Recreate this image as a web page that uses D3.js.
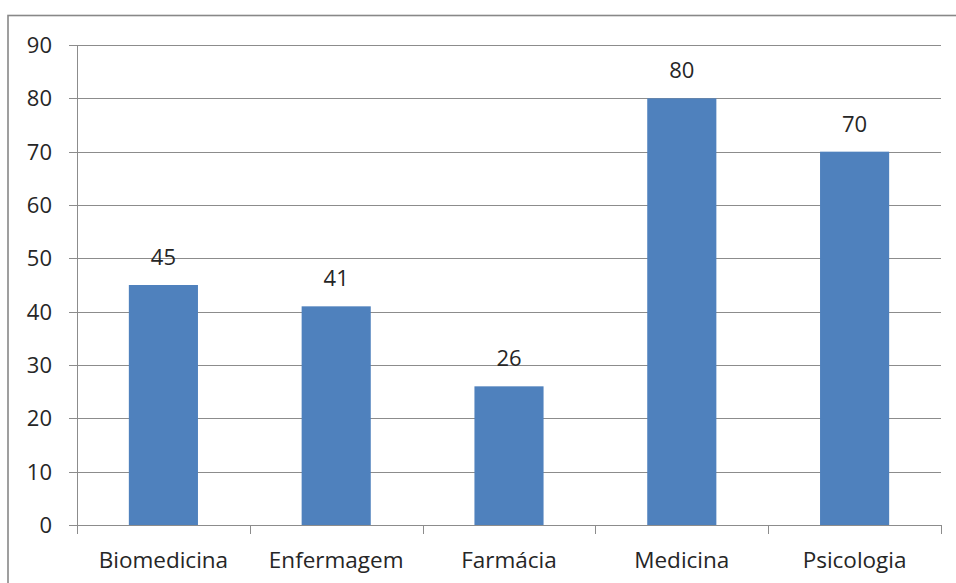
<!DOCTYPE html>
<html>
<head>
<meta charset="utf-8">
<script src="https://cdn.jsdelivr.net/npm/d3@7/dist/d3.min.js"></script>
<style>
  html, body { margin: 0; padding: 0; background: #fff; }
  svg { display: block; }
  text { font-family: "Open Sans", "DejaVu Sans", sans-serif; fill: #262626; }
</style>
</head>
<body>
<svg id="chart" width="956" height="583"></svg>
<script>
// Cursos e número de respostas
const categories = ["Biomedicina", "Enfermagem", "Farmácia", "Medicina", "Psicologia"];
const values = [45, 41, 26, 80, 70];
const yTicks = [0, 10, 20, 30, 40, 50, 60, 70, 80, 90];

const W = 956, H = 583;
const plot = { left: 77, right: 941, top: 45, bottom: 525 };

const svg = d3.select("#chart");

// outer chart frame (right and bottom edges run off the canvas)
svg.append("rect")
  .attr("x", 8).attr("y", 15.5)
  .attr("width", W + 10).attr("height", H + 10)
  .attr("fill", "none").attr("stroke", "#888").attr("stroke-width", 1.6);

const x = d3.scaleBand().domain(categories).range([plot.left, plot.right]).paddingInner(0).paddingOuter(0);
const y = d3.scaleLinear().domain([0, 90]).range([plot.bottom, plot.top]);

// horizontal gridlines with left tick stubs
svg.append("g")
  .selectAll("line").data(yTicks).join("line")
  .attr("x1", plot.left - 8).attr("x2", plot.right)
  .attr("y1", d => Math.round(y(d)) + 0.5).attr("y2", d => Math.round(y(d)) + 0.5)
  .attr("stroke", "#8c8c8c").attr("stroke-width", 1);

// value axis line
svg.append("line")
  .attr("x1", plot.left + 0.5).attr("x2", plot.left + 0.5)
  .attr("y1", plot.top).attr("y2", plot.bottom)
  .attr("stroke", "#8c8c8c");

// bars
const barW = x.bandwidth() * 0.4;
svg.append("g")
  .selectAll("rect").data(values).join("rect")
  .attr("x", (d, i) => x(categories[i]) + (x.bandwidth() - barW) / 2)
  .attr("y", d => y(d))
  .attr("width", barW)
  .attr("height", d => y(0) - y(d))
  .attr("fill", "#4f81bd");

// category axis line and tick marks
svg.append("line")
  .attr("x1", plot.left).attr("x2", plot.right)
  .attr("y1", plot.bottom + 0.5).attr("y2", plot.bottom + 0.5)
  .attr("stroke", "#8c8c8c");
const tickXs = categories.map(c => x(c)).concat([plot.right]);
svg.append("g")
  .selectAll("line").data(tickXs).join("line")
  .attr("x1", d => Math.round(d) + 0.5).attr("x2", d => Math.round(d) + 0.5)
  .attr("y1", plot.bottom).attr("y2", plot.bottom + 9)
  .attr("stroke", "#8c8c8c");

// value-axis labels
svg.append("g")
  .selectAll("text").data(yTicks).join("text")
  .attr("x", 52).attr("y", d => y(d) + 8)
  .attr("text-anchor", "end")
  .attr("font-size", 22)
  .text(d => d);

// category labels
svg.append("g")
  .selectAll("text").data(categories).join("text")
  .attr("x", d => x(d) + x.bandwidth() / 2)
  .attr("y", 568)
  .attr("text-anchor", "middle")
  .attr("font-size", 22.5)
  .text(d => d);

// data labels above bars
svg.append("g")
  .selectAll("text").data(values).join("text")
  .attr("x", (d, i) => x(categories[i]) + x.bandwidth() / 2)
  .attr("y", d => y(d) - 20)
  .attr("text-anchor", "middle")
  .attr("font-size", 22)
  .text(d => d);
</script>
</body>
</html>
